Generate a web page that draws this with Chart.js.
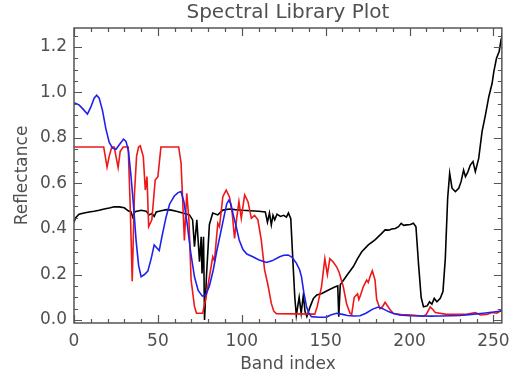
<!DOCTYPE html>
<html>
<head>
<meta charset="utf-8">
<script src="https://cdn.jsdelivr.net/npm/chart.js@4"></script>
<style>
  html, body { margin: 0; padding: 0; background: #fff; }
  #myChart { display: block; }
</style>
</head>
<body>
<canvas id="myChart" width="518" height="375"></canvas>
<script>
// band index / reflectance pairs
var blueBands = [0, 3, 5, 8, 10, 12, 13.5, 15, 17, 19, 21, 23, 25, 27, 29.5, 31, 32.5, 34, 35.5, 37, 38.5, 40, 42, 44, 46, 47.8, 49, 50.8, 52.5, 54.8, 57, 59.8, 62, 63.8, 65.5, 67.5, 69.5, 71.8, 74, 76.5, 78.5, 80.7, 83, 85, 87, 89, 91, 92.3, 93.5, 95, 96.7, 98.5, 100.7, 103, 106.6, 110, 114.6, 118, 122.6, 125, 127.6, 130, 132.6, 134.5, 135.6, 137, 138.6, 140, 141.5, 146, 150.5, 153, 156.5, 160, 163, 167, 170.5, 174, 178, 181.4, 184, 187.4, 190, 194, 200, 207, 213, 218, 225, 230, 237, 244, 250, 255];
var blueValues = [0.955, 0.945, 0.93, 0.905, 0.935, 0.975, 0.988, 0.975, 0.92, 0.84, 0.78, 0.755, 0.75, 0.77, 0.795, 0.785, 0.74, 0.63, 0.5, 0.35, 0.24, 0.19, 0.2, 0.215, 0.27, 0.33, 0.32, 0.305, 0.37, 0.45, 0.51, 0.545, 0.56, 0.565, 0.52, 0.42, 0.3, 0.19, 0.13, 0.105, 0.11, 0.15, 0.22, 0.3, 0.37, 0.44, 0.51, 0.527, 0.51, 0.46, 0.41, 0.35, 0.31, 0.29, 0.278, 0.265, 0.253, 0.26, 0.278, 0.285, 0.286, 0.275, 0.249, 0.22, 0.19, 0.12, 0.058, 0.03, 0.015, 0.012, 0.013, 0.022, 0.03, 0.025, 0.02, 0.018, 0.019, 0.03, 0.048, 0.057, 0.05, 0.037, 0.03, 0.022, 0.019, 0.018, 0.017, 0.018, 0.019, 0.02, 0.025, 0.03, 0.035, 0.04];

var redBands = [0, 17.7, 19.7, 21, 22.5, 24, 25, 26.3, 27.5, 29.3, 32.3, 33.5, 34.7, 36, 37.3, 38.5, 39.5, 41.3, 42.5, 43.5, 44.5, 46.4, 48.4, 50, 51.8, 62.4, 63.8, 65.8, 67.2, 68.5, 69.8, 71.8, 73, 76.7, 78.7, 80.7, 82.7, 83.7, 85.7, 86.7, 88.7, 90.7, 92.7, 94.3, 95.7, 97, 98.3, 99.7, 101.7, 103.7, 105.7, 107.6, 109.6, 111.6, 113.6, 115.6, 117.6, 119, 120.6, 143.5, 145, 147.5, 149.5, 151, 152.5, 154.5, 156.5, 158, 160.5, 162.5, 164.5, 165.5, 167, 169, 169.8, 170.8, 172.4, 174.4, 175.4, 176.4, 177.8, 179.4, 180.4, 182.4, 184, 185.4, 188.4, 190.4, 195, 201.4, 208.3, 210, 212.3, 214, 215.3, 222, 234, 239.2, 242.2, 246, 249.2, 252, 255];
var redValues = [0.76, 0.76, 0.672, 0.72, 0.76, 0.76, 0.72, 0.67, 0.74, 0.76, 0.76, 0.5, 0.17, 0.55, 0.72, 0.76, 0.765, 0.718, 0.571, 0.63, 0.41, 0.44, 0.615, 0.63, 0.76, 0.76, 0.69, 0.35, 0.557, 0.44, 0.176, 0.06, 0.03, 0.03, 0.1, 0.19, 0.278, 0.26, 0.425, 0.41, 0.542, 0.571, 0.54, 0.469, 0.359, 0.45, 0.52, 0.447, 0.55, 0.52, 0.447, 0.46, 0.44, 0.352, 0.22, 0.154, 0.073, 0.04, 0.028, 0.026, 0.06, 0.146, 0.27, 0.2, 0.27, 0.255, 0.234, 0.21, 0.146, 0.07, 0.03, 0.025, 0.1, 0.115, 0.09, 0.11, 0.146, 0.176, 0.165, 0.19, 0.217, 0.176, 0.09, 0.05, 0.06, 0.078, 0.045, 0.029, 0.024, 0.022, 0.017, 0.025, 0.058, 0.045, 0.033, 0.025, 0.025, 0.033, 0.022, 0.024, 0.033, 0.03, 0.044];

var blackBands = [0, 1, 3, 6, 9, 12, 15, 18, 21, 24, 27, 30, 32.3, 34, 35, 36.3, 40, 43, 44.9, 46.5, 47.8, 49, 52, 55, 58, 61, 64.8, 68.8, 70.7, 71.8, 73.2, 74.8, 75.8, 76.3, 77.2, 77.8, 79, 80.7, 82.7, 85.7, 88.7, 92.7, 96, 100.7, 105, 110, 114, 115.3, 116.5, 117.6, 118.6, 119.6, 121, 123, 125, 126.6, 127.8, 129.2, 130.6, 131.6, 132.5, 134.2, 135.4, 136.7, 137.7, 138.8, 140.7, 142.7, 144.7, 147.7, 151.7, 155.7, 157.2, 157.8, 158.7, 160.7, 163, 166.5, 169, 171.5, 175.4, 179.4, 183.4, 185.4, 187.5, 189.4, 191.5, 193.4, 195, 196.5, 198.4, 200.5, 202.3, 203.8, 205.3, 206.9, 208.3, 210.5, 211.9, 213.3, 214.7, 216.3, 218.3, 219.9, 221.3, 222.7, 223.9, 225.3, 227.3, 229.3, 230.7, 232.2, 233.3, 234.7, 236.2, 237.8, 239.2, 241.2, 243.2, 245.2, 247.2, 249.2, 250.2, 251.8, 253.4, 254.6, 255];
var blackValues = [0.43, 0.45, 0.465, 0.47, 0.475, 0.478, 0.482, 0.488, 0.492, 0.498, 0.497, 0.493, 0.48, 0.475, 0.452, 0.476, 0.482, 0.478, 0.462, 0.468, 0.455, 0.475, 0.48, 0.485, 0.483, 0.478, 0.47, 0.462, 0.44, 0.322, 0.44, 0.256, 0.366, 0.205, 0.366, 0.0, 0.2, 0.42, 0.47, 0.462, 0.483, 0.488, 0.485, 0.482, 0.48, 0.478, 0.475, 0.43, 0.47, 0.418, 0.46, 0.44, 0.465, 0.455, 0.46, 0.452, 0.47, 0.445, 0.24, 0.1, 0.02, 0.1, 0.03, 0.11, 0.037, 0.015, 0.058, 0.095, 0.11, 0.117, 0.132, 0.146, 0.15, 0.015, 0.155, 0.176, 0.2, 0.235, 0.27, 0.3, 0.33, 0.352, 0.381, 0.396, 0.395, 0.4, 0.402, 0.41, 0.425, 0.416, 0.418, 0.42, 0.425, 0.41, 0.25, 0.1, 0.058, 0.062, 0.08, 0.07, 0.095, 0.08, 0.095, 0.125, 0.27, 0.535, 0.645, 0.579, 0.564, 0.579, 0.608, 0.659, 0.63, 0.65, 0.681, 0.696, 0.652, 0.71, 0.828, 0.9, 0.98, 1.04, 1.09, 1.15, 1.18, 1.235, 1.26];

var xTicks = [0, 50, 100, 150, 200, 250];
var yTicks = [0.0, 0.2, 0.4, 0.6, 0.8, 1.0, 1.2];

function pairs(xs, ys) {
    return xs.map(function (x, i) { return { x: x, y: ys[i] }; });
}

var textColor = '#505050';
var axisColor = '#555555';
var font = "'DejaVu Sans', sans-serif";

// IDL style box with inward ticks on every side
var boxTicks = {
    id: 'boxTicks',
    afterDraw: function (chart) {
        var c = chart.ctx, a = chart.chartArea;
        var xs = chart.scales.x, ys = chart.scales.y;
        c.save();
        c.strokeStyle = axisColor;
        c.lineWidth = 1.5;
        c.strokeRect(a.left, a.top, a.right - a.left, a.bottom - a.top);
        c.lineWidth = 1.2;
        c.beginPath();
        for (var v = 0; v <= 255; v += 10) {
            var px = Math.round(xs.getPixelForValue(v)) + 0.5;
            var len = (v % 50 === 0) ? 8 : 4;
            c.moveTo(px, a.bottom); c.lineTo(px, a.bottom - len);
            c.moveTo(px, a.top); c.lineTo(px, a.top + len);
        }
        for (var k = 0; k <= 25; k++) {
            var py = Math.round(ys.getPixelForValue(k * 0.05)) + 0.5;
            var l = (k % 4 === 0) ? 8 : 4;
            c.moveTo(a.left, py); c.lineTo(a.left + l, py);
            c.moveTo(a.right, py); c.lineTo(a.right - l, py);
        }
        c.stroke();
        c.restore();
    }
};

var ctx = document.getElementById('myChart').getContext('2d');
var chart = new Chart(ctx, {
    type: 'line',
    data: {
        datasets: [
            { data: pairs(blueBands, blueValues), borderColor: '#2020ee', borderWidth: 1.6, pointRadius: 0, tension: 0 },
            { data: pairs(redBands, redValues), borderColor: '#ee1818', borderWidth: 1.6, pointRadius: 0, tension: 0 },
            { data: pairs(blackBands, blackValues), borderColor: '#000000', borderWidth: 1.6, pointRadius: 0, tension: 0 }
        ]
    },
    options: {
        responsive: false,
        animation: false,
        devicePixelRatio: 1,
        layout: { padding: { left: 0, right: 16, top: 0, bottom: 0 } },
        plugins: {
            legend: { display: false },
            tooltip: { enabled: false },
            title: {
                display: true,
                fullSize: false,
                text: 'Spectral Library Plot',
                color: textColor,
                font: { family: font, size: 20, weight: 'normal' },
                padding: { top: 1, bottom: 3 }
            }
        },
        scales: {
            x: {
                type: 'linear',
                min: 0,
                max: 255,
                afterFit: function (s) { s.height = 52; },
                grid: { display: false, drawTicks: false },
                border: { display: false },
                ticks: {
                    stepSize: 50,
                    includeBounds: false,
                    autoSkip: false,
                    maxRotation: 0,
                    padding: 8,
                    color: textColor,
                    font: { family: font, size: 17 },
                    callback: function (v) { return xTicks.indexOf(v) >= 0 ? String(v) : ''; }
                },
                title: {
                    display: true,
                    text: 'Band index',
                    color: textColor,
                    font: { family: font, size: 17 },
                    padding: { top: -1, bottom: 0 }
                }
            },
            y: {
                type: 'linear',
                min: -0.013,
                max: 1.283,
                afterFit: function (s) { s.width = 74; },
                grid: { display: false, drawTicks: false },
                border: { display: false },
                ticks: {
                    stepSize: 0.2,
                    includeBounds: false,
                    autoSkip: false,
                    padding: 7,
                    color: textColor,
                    font: { family: font, size: 17 },
                    callback: function (v) {
                        var r = Math.round(v * 10) / 10;
                        return yTicks.indexOf(r) >= 0 && Math.abs(v - r) < 1e-6 ? r.toFixed(1) : '';
                    }
                },
                title: {
                    display: true,
                    text: 'Reflectance',
                    color: textColor,
                    font: { family: font, size: 17 },
                    padding: { top: 12, bottom: 12 }
                }
            }
        }
    },
    plugins: [boxTicks]
});
</script>
</body>
</html>
